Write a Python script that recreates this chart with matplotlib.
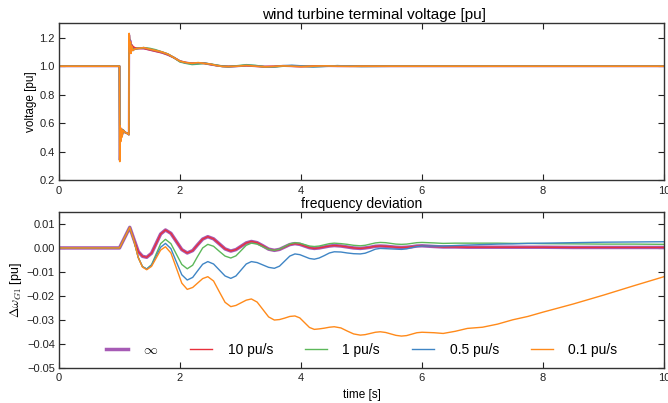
import matplotlib
matplotlib.use("Agg")
import matplotlib.pyplot as plt

plt.rcParams['font.family'] = ['Liberation Sans', 'DejaVu Sans']
plt.rcParams['mathtext.fontset'] = 'cm'

# ---- voltage data ----
t_v = [0, 1.0, 1.005, 1.01, 1.02, 1.03, 1.04, 1.06, 1.09, 1.12,
       1.155, 1.16, 1.17, 1.18, 1.19, 1.20, 1.22, 1.25, 1.30, 1.40,
       1.50, 1.60, 1.70, 1.80, 1.90, 2.00, 2.10, 2.20, 2.30, 2.40,
       2.50, 2.60, 2.70, 2.80, 2.95, 3.10, 3.25, 3.40, 3.55, 3.70,
       3.85, 4.00, 4.20, 4.40, 4.60, 4.80, 5.00, 5.50, 6.00, 7.00,
       8.00, 9.00, 10.00]
v_inf = [1.0, 1.0, 0.34, 0.57, 0.48, 0.56, 0.51, 0.55, 0.535, 0.53,
         0.52, 1.22, 1.12, 1.18, 1.13, 1.15, 1.13, 1.12, 1.125, 1.125,
         1.115, 1.105, 1.095, 1.08, 1.06, 1.035, 1.025, 1.02, 1.022, 1.02,
         1.012, 1.005, 1.0, 0.998, 1.0, 1.004, 1.0, 0.997, 0.998, 1.002,
         1.0, 0.998, 1.0, 1.001, 1.0, 1.0, 1.0, 1.0, 1.0, 1.0,
         1.0, 1.0, 1.0]
v_10 = [1.0, 1.0, 0.34, 0.57, 0.48, 0.56, 0.51, 0.55, 0.535, 0.53,
        0.52, 1.22, 1.13, 1.17, 1.14, 1.15, 1.14, 1.13, 1.125, 1.125,
        1.115, 1.105, 1.095, 1.08, 1.06, 1.035, 1.025, 1.02, 1.022, 1.02,
        1.012, 1.005, 1.0, 0.998, 1.0, 1.004, 1.0, 0.997, 0.998, 1.002,
        1.0, 0.998, 1.0, 1.001, 1.0, 1.0, 1.0, 1.0, 1.0, 1.0,
        1.0, 1.0, 1.0]
v_1 = [1.0, 1.0, 0.34, 0.57, 0.48, 0.56, 0.51, 0.55, 0.535, 0.53,
       0.52, 1.22, 1.11, 1.16, 1.11, 1.14, 1.12, 1.12, 1.125, 1.13,
       1.125, 1.115, 1.10, 1.085, 1.06, 1.03, 1.02, 1.012, 1.015, 1.02,
       1.015, 1.008, 1.0, 0.997, 1.003, 1.01, 1.005, 0.996, 0.995, 1.0,
       1.003, 1.0, 0.997, 1.0, 1.003, 1.0, 0.999, 1.0, 1.0, 1.0,
       1.0, 1.0, 1.0]
v_05 = [1.0, 1.0, 0.34, 0.57, 0.48, 0.56, 0.51, 0.55, 0.535, 0.53,
        0.52, 1.22, 1.11, 1.16, 1.10, 1.14, 1.11, 1.12, 1.125, 1.13,
        1.12, 1.11, 1.10, 1.085, 1.06, 1.035, 1.022, 1.018, 1.02, 1.022,
        1.015, 1.005, 0.998, 0.996, 1.0, 1.006, 1.003, 0.994, 0.996, 1.003,
        1.006, 1.002, 0.996, 0.999, 1.003, 1.001, 0.999, 1.0, 1.0, 1.0,
        1.001, 1.001, 1.001]
v_01 = [1.0, 1.0, 0.33, 0.58, 0.47, 0.56, 0.50, 0.55, 0.535, 0.53,
        0.52, 1.23, 1.10, 1.17, 1.09, 1.14, 1.11, 1.12, 1.125, 1.13,
        1.12, 1.11, 1.10, 1.085, 1.06, 1.035, 1.025, 1.02, 1.025, 1.02,
        1.015, 1.005, 0.998, 0.997, 1.0, 1.005, 1.0, 0.995, 0.998, 1.002,
        1.0, 0.997, 1.0, 1.002, 1.0, 0.999, 1.0, 1.0, 1.0, 1.0,
        1.0, 1.0, 1.0]

# ---- frequency deviation data ----
t_f = [0, 1.0, 1.17, 1.24, 1.31, 1.38, 1.45,
       1.53, 1.605, 1.68, 1.76,
       1.85, 1.94, 2.03, 2.12,
       2.21, 2.29, 2.375, 2.46,
       2.555, 2.65, 2.745, 2.84,
       2.925, 3.01, 3.095, 3.18,
       3.275, 3.37, 3.465, 3.56,
       3.645, 3.73, 3.815, 3.90,
       3.98, 4.06, 4.14, 4.22,
       4.30, 4.385, 4.47, 4.55,
       4.66, 4.765, 4.87, 4.98,
       5.06, 5.145, 5.23, 5.31,
       5.40, 5.485, 5.57, 5.66,
       5.745, 5.83, 5.915, 6.00,
       6.2, 6.35, 6.55, 6.75, 7.0, 7.25, 7.5, 7.75, 8.0, 8.5, 9.0, 9.5, 10.0]
w_10 = [0, 0, 0.0086, 0.0035, -0.0015, -0.0035, -0.0039,
        -0.0022, 0.0018, 0.0058, 0.0075,
        0.0061, 0.0027, -0.0007, -0.0021,
        -0.0011, 0.0013, 0.0037, 0.0047,
        0.0038, 0.0017, -0.0004, -0.0013,
        -0.0007, 0.0007, 0.0021, 0.0027,
        0.0022, 0.0009, -0.0005, -0.0010,
        -0.0006, 0.0004, 0.0014, 0.0018,
        0.0015, 0.0008, 0.0001, -0.0002,
        0.0000, 0.0004, 0.0008, 0.0010,
        0.0008, 0.0004, 0.0000, -0.0002,
        0.0000, 0.0003, 0.0007, 0.0008,
        0.0007, 0.0005, 0.0003, 0.0002,
        0.0003, 0.0005, 0.0008, 0.0009,
        0.0006, 0.0004, 0.0004, 0.0003, 0.0003, 0.0003, 0.0003, 0.0003, 0.0003, 0.0002, 0.0002, 0.0002, 0.0002]
w_inf = w_10
w_1 = [0, 0, 0.0086, 0.0030, -0.0040, -0.0078, -0.0088,
       -0.0070, -0.0026, 0.0018, 0.0036,
       0.0018, -0.0026, -0.0069, -0.0087,
       -0.0072, -0.0036, 0.0000, 0.0015,
       0.0007, -0.0014, -0.0034, -0.0042,
       -0.0033, -0.0011, 0.0011, 0.0020,
       0.0016, 0.0005, -0.0006, -0.0010,
       -0.0005, 0.0006, 0.0017, 0.0022,
       0.0020, 0.0014, 0.0008, 0.0006,
       0.0008, 0.0013, 0.0018, 0.0020,
       0.0018, 0.0015, 0.0011, 0.0009,
       0.0011, 0.0016, 0.0021, 0.0023,
       0.0022, 0.0019, 0.0016, 0.0015,
       0.0016, 0.0019, 0.0022, 0.0023,
       0.0021, 0.0019, 0.0020, 0.0020, 0.0020, 0.0020, 0.0019, 0.0019, 0.0018, 0.0017, 0.0016, 0.0016, 0.0015]
w_05 = [0, 0, 0.0086, 0.0030, -0.0040, -0.0078, -0.0088,
        -0.0072, -0.0035, 0.0003, 0.0019,
        -0.0003, -0.0058, -0.0112, -0.0134,
        -0.0123, -0.0096, -0.0068, -0.0057,
        -0.0067, -0.0092, -0.0117, -0.0127,
        -0.0117, -0.0092, -0.0067, -0.0057,
        -0.0061, -0.0071, -0.0081, -0.0085,
        -0.0076, -0.0055, -0.0034, -0.0025,
        -0.0028, -0.0036, -0.0044, -0.0047,
        -0.0042, -0.0032, -0.0021, -0.0016,
        -0.0017, -0.0021, -0.0024, -0.0025,
        -0.0022, -0.0014, -0.0005, -0.0002,
        -0.0003, -0.0004, -0.0005, -0.0006,
        -0.0004, 0.0001, 0.0006, 0.0008,
        0.0008, 0.0008, 0.0010, 0.0012, 0.0014, 0.0016, 0.0017, 0.0019, 0.0020, 0.0022, 0.0024, 0.0025, 0.0026]
w_01 = [0, 0, 0.0086, 0.0030, -0.0040, -0.0080, -0.0091,
        -0.0077, -0.0043, -0.0009, 0.0005,
        -0.0021, -0.0084, -0.0147, -0.0173,
        -0.0165, -0.0147, -0.0128, -0.0120,
        -0.0138, -0.0183, -0.0227, -0.0245,
        -0.0240, -0.0229, -0.0218, -0.0213,
        -0.0226, -0.0257, -0.0288, -0.0301,
        -0.0299, -0.0293, -0.0286, -0.0284,
        -0.0292, -0.0312, -0.0332, -0.0340,
        -0.0338, -0.0335, -0.0331, -0.0329,
        -0.0334, -0.0347, -0.0359, -0.0364,
        -0.0362, -0.0357, -0.0352, -0.0350,
        -0.0353, -0.0359, -0.0365, -0.0368,
        -0.0366, -0.0360, -0.0354, -0.0352,
        -0.0354, -0.0357, -0.0348, -0.0336, -0.0331, -0.0318, -0.0300, -0.0286, -0.0268, -0.0234, -0.0197, -0.0158, -0.0120]

labels = [r'$\infty$', '10 pu/s', '1 pu/s', '0.5 pu/s', '0.1 pu/s']
colors = ['#a65bb5', '#e8303c', '#5cb85a', '#3f85c5', '#ff8a1a']
widths = [2.5, 1, 1, 1, 1]

volts = [v_inf, v_10, v_1, v_05, v_01]
freqs = [w_inf, w_10, w_1, w_05, w_01]

fig = plt.figure(figsize=(6.68, 4.03), dpi=100)
ax1 = fig.add_axes([0.0883, 0.5533, 0.9057, 0.3884])
ax2 = fig.add_axes([0.0883, 0.0876, 0.9057, 0.3863])

for v, c, lw in zip(volts, colors, widths):
    ax1.plot(t_v, v, color=c, lw=1.5 if lw > 1 else 1.2)
for w, c, lw, lab in zip(freqs, colors, widths, labels):
    ax2.plot(t_f, w, color=c, lw=lw, label=lab)

ax1.set_xlim(0, 10)
ax1.set_ylim(0.2, 1.3)
ax1.set_yticks([0.2, 0.4, 0.6, 0.8, 1.0, 1.2])
ax1.set_title('wind turbine terminal voltage [pu]', fontsize=11, pad=3, x=0.52)
ax1.set_ylabel('voltage [pu]', fontsize=8.5, labelpad=2)

ax2.set_xlim(0, 10)
ax2.set_ylim(-0.05, 0.015)
ax2.set_yticks([-0.05, -0.04, -0.03, -0.02, -0.01, 0.0, 0.01])
ax2.set_title('frequency deviation', fontsize=10, pad=3)
ax2.set_ylabel(r'$\Delta\omega_{G1}$ [pu]', fontsize=9, labelpad=2)
ax2.set_xlabel('time [s]', fontsize=8.5, labelpad=4)

for ax in (ax1, ax2):
    ax.tick_params(direction='in', top=True, right=True, labelsize=8,
                   length=4, width=0.8, pad=3, colors='#222222')
    ax.tick_params(axis='x', pad=4)
    for s in ax.spines.values():
        s.set_color('#333333')
        s.set_linewidth(1.0)

ax2.legend(loc='lower center', bbox_to_anchor=(0.5, -0.01), ncol=5, frameon=False,
           fontsize=10, handlelength=1.6, handletextpad=1.1, columnspacing=2.3)

fig.savefig('out.png', dpi=100)
